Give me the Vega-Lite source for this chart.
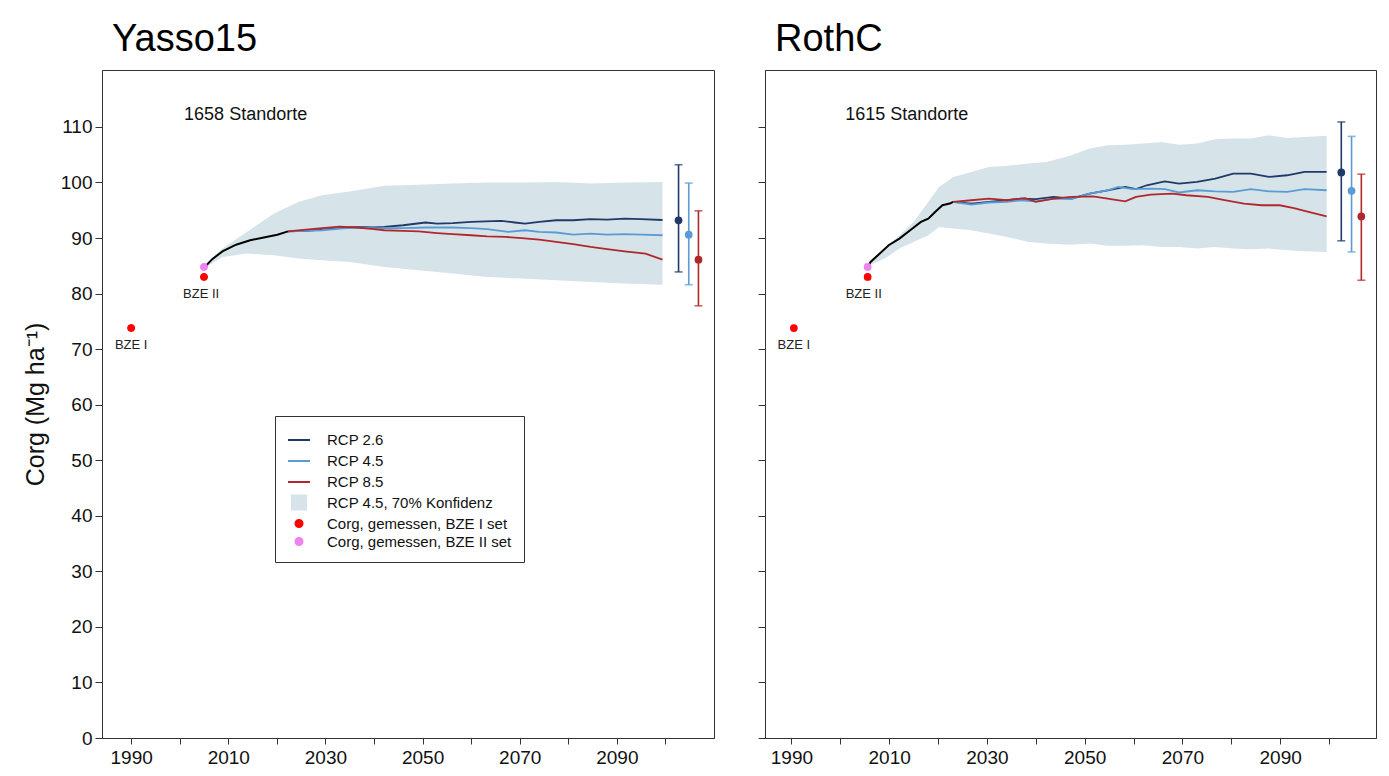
{
  "$schema": "https://vega.github.io/schema/vega-lite/v6.json",
  "padding": {"left": 22, "top": 20, "right": 5, "bottom": 5},
  "background": "white",
  "config": {
    "font": "Liberation Sans",
    "view": {"stroke": "#333", "strokeWidth": 1},
    "axis": {"labelFont": "Liberation Sans", "labelFontSize": 19, "labelColor": "#111", "domainColor": "#333", "tickColor": "#333", "grid": false, "titleFont": "Liberation Sans", "titleFontWeight": "normal", "titleColor": "#111"},
    "title": {"font": "Liberation Sans", "fontWeight": "normal", "color": "#000", "fontSize": 38, "anchor": "start", "frame": "group", "offset": 11, "dx": 10},
    "legend": {"title": null, "orient": "none", "legendX": 173, "legendY": 346, "padding": 12, "strokeColor": "#333", "fillColor": "white", "labelFont": "Liberation Sans", "labelFontSize": 15, "labelColor": "#111", "labelLimit": 400, "rowPadding": 1, "labelOffset": 16, "symbolStrokeWidth": 2}
  },
  "datasets": {
    "y15": [
      {"kind": "band", "year": 2005.3, "lo": 84.7, "hi": 85.4},
      {"kind": "band", "year": 2008.8, "lo": 86.6, "hi": 88.1},
      {"kind": "band", "year": 2013.8, "lo": 87.2, "hi": 91.1},
      {"kind": "band", "year": 2019.4, "lo": 86.9, "hi": 94.4},
      {"kind": "band", "year": 2024.4, "lo": 86.3, "hi": 96.5},
      {"kind": "band", "year": 2029.3, "lo": 86.0, "hi": 97.7},
      {"kind": "band", "year": 2035.0, "lo": 85.7, "hi": 98.4},
      {"kind": "band", "year": 2042.1, "lo": 84.8, "hi": 99.4},
      {"kind": "band", "year": 2049.2, "lo": 84.2, "hi": 99.6},
      {"kind": "band", "year": 2056.2, "lo": 83.6, "hi": 99.8},
      {"kind": "band", "year": 2063.3, "lo": 83.0, "hi": 100.0},
      {"kind": "band", "year": 2070.4, "lo": 82.7, "hi": 100.0},
      {"kind": "band", "year": 2077.5, "lo": 82.4, "hi": 100.1},
      {"kind": "band", "year": 2084.6, "lo": 82.1, "hi": 99.8},
      {"kind": "band", "year": 2091.6, "lo": 81.8, "hi": 100.0},
      {"kind": "band", "year": 2099.4, "lo": 81.6, "hi": 100.1},
      {"kind": "hist", "year": 2005.2, "value": 84.8},
      {"kind": "hist", "year": 2006.7, "value": 86.2},
      {"kind": "hist", "year": 2008.8, "value": 87.6},
      {"kind": "hist", "year": 2011.6, "value": 88.8},
      {"kind": "hist", "year": 2014.5, "value": 89.6},
      {"kind": "hist", "year": 2017.3, "value": 90.1},
      {"kind": "hist", "year": 2020.1, "value": 90.6},
      {"kind": "hist", "year": 2022.3, "value": 91.2},
      {"kind": "line", "series": "RCP 2.6", "year": 2022.3, "value": 91.2},
      {"kind": "line", "series": "RCP 2.6", "year": 2026.0, "value": 91.3},
      {"kind": "line", "series": "RCP 2.6", "year": 2029.3, "value": 91.5},
      {"kind": "line", "series": "RCP 2.6", "year": 2033.0, "value": 91.8},
      {"kind": "line", "series": "RCP 2.6", "year": 2036.4, "value": 92.0},
      {"kind": "line", "series": "RCP 2.6", "year": 2040.0, "value": 91.9},
      {"kind": "line", "series": "RCP 2.6", "year": 2042.1, "value": 92.0},
      {"kind": "line", "series": "RCP 2.6", "year": 2046.0, "value": 92.3},
      {"kind": "line", "series": "RCP 2.6", "year": 2050.6, "value": 92.8},
      {"kind": "line", "series": "RCP 2.6", "year": 2053.0, "value": 92.6},
      {"kind": "line", "series": "RCP 2.6", "year": 2056.2, "value": 92.7},
      {"kind": "line", "series": "RCP 2.6", "year": 2060.0, "value": 92.9},
      {"kind": "line", "series": "RCP 2.6", "year": 2063.0, "value": 93.0},
      {"kind": "line", "series": "RCP 2.6", "year": 2066.2, "value": 93.1},
      {"kind": "line", "series": "RCP 2.6", "year": 2069.0, "value": 92.8},
      {"kind": "line", "series": "RCP 2.6", "year": 2071.1, "value": 92.6},
      {"kind": "line", "series": "RCP 2.6", "year": 2074.0, "value": 92.9},
      {"kind": "line", "series": "RCP 2.6", "year": 2077.5, "value": 93.2},
      {"kind": "line", "series": "RCP 2.6", "year": 2081.0, "value": 93.2},
      {"kind": "line", "series": "RCP 2.6", "year": 2084.6, "value": 93.4},
      {"kind": "line", "series": "RCP 2.6", "year": 2088.0, "value": 93.3},
      {"kind": "line", "series": "RCP 2.6", "year": 2091.6, "value": 93.5},
      {"kind": "line", "series": "RCP 2.6", "year": 2095.0, "value": 93.4},
      {"kind": "line", "series": "RCP 2.6", "year": 2099.4, "value": 93.25},
      {"kind": "line", "series": "RCP 4.5", "year": 2022.3, "value": 91.2},
      {"kind": "line", "series": "RCP 4.5", "year": 2026.0, "value": 91.3},
      {"kind": "line", "series": "RCP 4.5", "year": 2029.3, "value": 91.4},
      {"kind": "line", "series": "RCP 4.5", "year": 2033.0, "value": 91.7},
      {"kind": "line", "series": "RCP 4.5", "year": 2036.4, "value": 91.9},
      {"kind": "line", "series": "RCP 4.5", "year": 2040.0, "value": 91.8},
      {"kind": "line", "series": "RCP 4.5", "year": 2046.0, "value": 91.8},
      {"kind": "line", "series": "RCP 4.5", "year": 2050.6, "value": 91.9},
      {"kind": "line", "series": "RCP 4.5", "year": 2056.2, "value": 91.9},
      {"kind": "line", "series": "RCP 4.5", "year": 2060.0, "value": 91.8},
      {"kind": "line", "series": "RCP 4.5", "year": 2063.3, "value": 91.6},
      {"kind": "line", "series": "RCP 4.5", "year": 2067.6, "value": 91.1},
      {"kind": "line", "series": "RCP 4.5", "year": 2071.1, "value": 91.4},
      {"kind": "line", "series": "RCP 4.5", "year": 2074.0, "value": 91.1},
      {"kind": "line", "series": "RCP 4.5", "year": 2077.5, "value": 91.0},
      {"kind": "line", "series": "RCP 4.5", "year": 2081.0, "value": 90.6},
      {"kind": "line", "series": "RCP 4.5", "year": 2084.6, "value": 90.8},
      {"kind": "line", "series": "RCP 4.5", "year": 2088.0, "value": 90.6},
      {"kind": "line", "series": "RCP 4.5", "year": 2091.6, "value": 90.7},
      {"kind": "line", "series": "RCP 4.5", "year": 2095.0, "value": 90.6},
      {"kind": "line", "series": "RCP 4.5", "year": 2099.4, "value": 90.5},
      {"kind": "line", "series": "RCP 8.5", "year": 2022.3, "value": 91.2},
      {"kind": "line", "series": "RCP 8.5", "year": 2026.0, "value": 91.5},
      {"kind": "line", "series": "RCP 8.5", "year": 2029.3, "value": 91.8},
      {"kind": "line", "series": "RCP 8.5", "year": 2032.9, "value": 92.05},
      {"kind": "line", "series": "RCP 8.5", "year": 2036.4, "value": 91.9},
      {"kind": "line", "series": "RCP 8.5", "year": 2040.0, "value": 91.6},
      {"kind": "line", "series": "RCP 8.5", "year": 2042.1, "value": 91.4},
      {"kind": "line", "series": "RCP 8.5", "year": 2046.0, "value": 91.3},
      {"kind": "line", "series": "RCP 8.5", "year": 2049.2, "value": 91.2},
      {"kind": "line", "series": "RCP 8.5", "year": 2053.0, "value": 90.9},
      {"kind": "line", "series": "RCP 8.5", "year": 2056.2, "value": 90.7},
      {"kind": "line", "series": "RCP 8.5", "year": 2060.0, "value": 90.5},
      {"kind": "line", "series": "RCP 8.5", "year": 2063.3, "value": 90.3},
      {"kind": "line", "series": "RCP 8.5", "year": 2067.0, "value": 90.2},
      {"kind": "line", "series": "RCP 8.5", "year": 2070.4, "value": 90.0},
      {"kind": "line", "series": "RCP 8.5", "year": 2074.0, "value": 89.7},
      {"kind": "line", "series": "RCP 8.5", "year": 2077.5, "value": 89.3},
      {"kind": "line", "series": "RCP 8.5", "year": 2081.0, "value": 88.9},
      {"kind": "line", "series": "RCP 8.5", "year": 2084.6, "value": 88.4},
      {"kind": "line", "series": "RCP 8.5", "year": 2088.0, "value": 88.0},
      {"kind": "line", "series": "RCP 8.5", "year": 2091.6, "value": 87.6},
      {"kind": "line", "series": "RCP 8.5", "year": 2095.9, "value": 87.2},
      {"kind": "line", "series": "RCP 8.5", "year": 2099.4, "value": 86.1},
      {"kind": "err", "series": "RCP 2.6", "year": 2102.7, "value": 93.2, "lo": 83.9, "hi": 103.2},
      {"kind": "err", "series": "RCP 4.5", "year": 2104.8, "value": 90.6, "lo": 81.6, "hi": 99.9},
      {"kind": "err", "series": "RCP 8.5", "year": 2106.8, "value": 86.1, "lo": 77.8, "hi": 94.9},
      {"kind": "pt", "series": "Corg, gemessen, BZE I set", "year": 1990.0, "value": 73.8},
      {"kind": "pt", "series": "Corg, gemessen, BZE I set", "year": 2005.0, "value": 83.0},
      {"kind": "pt", "series": "Corg, gemessen, BZE II set", "year": 2005.0, "value": 84.8},
      {"kind": "label", "text": "BZE I", "year": 1990.0, "value": 70.8},
      {"kind": "label", "text": "BZE II", "year": 2004.4, "value": 79.9},
      {"kind": "note", "text": "1658 Standorte", "year": 2000.9, "value": 112.1}
    ],
    "rc": [
      {"kind": "band", "year": 2006.0, "lo": 85.1, "hi": 85.8},
      {"kind": "band", "year": 2009.1, "lo": 86.3, "hi": 88.1},
      {"kind": "band", "year": 2012.1, "lo": 88.1, "hi": 90.5},
      {"kind": "band", "year": 2015.0, "lo": 89.3, "hi": 92.9},
      {"kind": "band", "year": 2018.0, "lo": 90.5, "hi": 96.5},
      {"kind": "band", "year": 2020.2, "lo": 92.0, "hi": 99.2},
      {"kind": "band", "year": 2023.1, "lo": 91.7, "hi": 101.0},
      {"kind": "band", "year": 2026.8, "lo": 91.4, "hi": 101.9},
      {"kind": "band", "year": 2030.4, "lo": 90.8, "hi": 102.8},
      {"kind": "band", "year": 2034.1, "lo": 90.2, "hi": 103.0},
      {"kind": "band", "year": 2038.5, "lo": 89.3, "hi": 103.4},
      {"kind": "band", "year": 2042.2, "lo": 89.0, "hi": 103.7},
      {"kind": "band", "year": 2047.3, "lo": 88.8, "hi": 104.9},
      {"kind": "band", "year": 2051.0, "lo": 89.0, "hi": 106.1},
      {"kind": "band", "year": 2054.7, "lo": 88.6, "hi": 106.7},
      {"kind": "band", "year": 2058.3, "lo": 88.6, "hi": 106.8},
      {"kind": "band", "year": 2062.0, "lo": 88.7, "hi": 107.0},
      {"kind": "band", "year": 2065.7, "lo": 88.4, "hi": 107.3},
      {"kind": "band", "year": 2069.3, "lo": 88.4, "hi": 106.8},
      {"kind": "band", "year": 2073.0, "lo": 88.1, "hi": 107.0},
      {"kind": "band", "year": 2076.7, "lo": 88.4, "hi": 107.8},
      {"kind": "band", "year": 2080.4, "lo": 88.1, "hi": 107.9},
      {"kind": "band", "year": 2084.0, "lo": 88.0, "hi": 107.9},
      {"kind": "band", "year": 2087.7, "lo": 88.1, "hi": 108.5},
      {"kind": "band", "year": 2091.4, "lo": 87.8, "hi": 108.0},
      {"kind": "band", "year": 2095.0, "lo": 87.6, "hi": 108.2},
      {"kind": "band", "year": 2099.5, "lo": 87.5, "hi": 108.4},
      {"kind": "hist", "year": 2005.7, "value": 84.8},
      {"kind": "hist", "year": 2006.2, "value": 85.7},
      {"kind": "hist", "year": 2007.7, "value": 86.9},
      {"kind": "hist", "year": 2009.9, "value": 88.7},
      {"kind": "hist", "year": 2012.1, "value": 89.9},
      {"kind": "hist", "year": 2014.3, "value": 91.4},
      {"kind": "hist", "year": 2016.5, "value": 92.9},
      {"kind": "hist", "year": 2018.0, "value": 93.5},
      {"kind": "hist", "year": 2019.4, "value": 94.7},
      {"kind": "hist", "year": 2020.9, "value": 95.9},
      {"kind": "hist", "year": 2022.4, "value": 96.2},
      {"kind": "hist", "year": 2023.1, "value": 96.5},
      {"kind": "line", "series": "RCP 2.6", "year": 2023.1, "value": 96.5},
      {"kind": "line", "series": "RCP 2.6", "year": 2026.8, "value": 96.2},
      {"kind": "line", "series": "RCP 2.6", "year": 2030.4, "value": 96.5},
      {"kind": "line", "series": "RCP 2.6", "year": 2034.1, "value": 96.8},
      {"kind": "line", "series": "RCP 2.6", "year": 2037.0, "value": 97.1},
      {"kind": "line", "series": "RCP 2.6", "year": 2040.0, "value": 97.0},
      {"kind": "line", "series": "RCP 2.6", "year": 2043.7, "value": 97.4},
      {"kind": "line", "series": "RCP 2.6", "year": 2047.3, "value": 97.1},
      {"kind": "line", "series": "RCP 2.6", "year": 2051.0, "value": 98.0},
      {"kind": "line", "series": "RCP 2.6", "year": 2054.7, "value": 98.6},
      {"kind": "line", "series": "RCP 2.6", "year": 2058.3, "value": 99.2},
      {"kind": "line", "series": "RCP 2.6", "year": 2060.5, "value": 98.8},
      {"kind": "line", "series": "RCP 2.6", "year": 2062.7, "value": 99.5},
      {"kind": "line", "series": "RCP 2.6", "year": 2066.4, "value": 100.2},
      {"kind": "line", "series": "RCP 2.6", "year": 2069.3, "value": 99.8},
      {"kind": "line", "series": "RCP 2.6", "year": 2073.0, "value": 100.1},
      {"kind": "line", "series": "RCP 2.6", "year": 2076.7, "value": 100.7},
      {"kind": "line", "series": "RCP 2.6", "year": 2080.4, "value": 101.6},
      {"kind": "line", "series": "RCP 2.6", "year": 2084.0, "value": 101.6},
      {"kind": "line", "series": "RCP 2.6", "year": 2087.7, "value": 101.0},
      {"kind": "line", "series": "RCP 2.6", "year": 2091.4, "value": 101.3},
      {"kind": "line", "series": "RCP 2.6", "year": 2095.0, "value": 101.9},
      {"kind": "line", "series": "RCP 2.6", "year": 2099.5, "value": 101.9},
      {"kind": "line", "series": "RCP 4.5", "year": 2023.1, "value": 96.5},
      {"kind": "line", "series": "RCP 4.5", "year": 2026.8, "value": 96.0},
      {"kind": "line", "series": "RCP 4.5", "year": 2030.4, "value": 96.4},
      {"kind": "line", "series": "RCP 4.5", "year": 2034.1, "value": 96.5},
      {"kind": "line", "series": "RCP 4.5", "year": 2037.0, "value": 96.8},
      {"kind": "line", "series": "RCP 4.5", "year": 2040.0, "value": 96.6},
      {"kind": "line", "series": "RCP 4.5", "year": 2043.7, "value": 97.1},
      {"kind": "line", "series": "RCP 4.5", "year": 2047.3, "value": 97.0},
      {"kind": "line", "series": "RCP 4.5", "year": 2051.0, "value": 98.0},
      {"kind": "line", "series": "RCP 4.5", "year": 2054.7, "value": 98.6},
      {"kind": "line", "series": "RCP 4.5", "year": 2056.9, "value": 99.2},
      {"kind": "line", "series": "RCP 4.5", "year": 2059.8, "value": 98.8},
      {"kind": "line", "series": "RCP 4.5", "year": 2063.5, "value": 98.9},
      {"kind": "line", "series": "RCP 4.5", "year": 2066.4, "value": 98.8},
      {"kind": "line", "series": "RCP 4.5", "year": 2069.3, "value": 98.2},
      {"kind": "line", "series": "RCP 4.5", "year": 2073.0, "value": 98.6},
      {"kind": "line", "series": "RCP 4.5", "year": 2076.7, "value": 98.4},
      {"kind": "line", "series": "RCP 4.5", "year": 2080.4, "value": 98.3},
      {"kind": "line", "series": "RCP 4.5", "year": 2084.0, "value": 98.8},
      {"kind": "line", "series": "RCP 4.5", "year": 2087.7, "value": 98.4},
      {"kind": "line", "series": "RCP 4.5", "year": 2091.4, "value": 98.3},
      {"kind": "line", "series": "RCP 4.5", "year": 2095.0, "value": 98.8},
      {"kind": "line", "series": "RCP 4.5", "year": 2099.5, "value": 98.6},
      {"kind": "line", "series": "RCP 8.5", "year": 2023.1, "value": 96.5},
      {"kind": "line", "series": "RCP 8.5", "year": 2026.8, "value": 96.8},
      {"kind": "line", "series": "RCP 8.5", "year": 2030.4, "value": 97.1},
      {"kind": "line", "series": "RCP 8.5", "year": 2034.1, "value": 96.8},
      {"kind": "line", "series": "RCP 8.5", "year": 2037.8, "value": 97.2},
      {"kind": "line", "series": "RCP 8.5", "year": 2040.0, "value": 96.5},
      {"kind": "line", "series": "RCP 8.5", "year": 2043.7, "value": 97.1},
      {"kind": "line", "series": "RCP 8.5", "year": 2047.3, "value": 97.4},
      {"kind": "line", "series": "RCP 8.5", "year": 2051.7, "value": 97.5},
      {"kind": "line", "series": "RCP 8.5", "year": 2054.7, "value": 97.1},
      {"kind": "line", "series": "RCP 8.5", "year": 2058.3, "value": 96.6},
      {"kind": "line", "series": "RCP 8.5", "year": 2060.5, "value": 97.4},
      {"kind": "line", "series": "RCP 8.5", "year": 2063.5, "value": 97.8},
      {"kind": "line", "series": "RCP 8.5", "year": 2067.9, "value": 98.0},
      {"kind": "line", "series": "RCP 8.5", "year": 2070.8, "value": 97.7},
      {"kind": "line", "series": "RCP 8.5", "year": 2075.2, "value": 97.4},
      {"kind": "line", "series": "RCP 8.5", "year": 2078.9, "value": 96.8},
      {"kind": "line", "series": "RCP 8.5", "year": 2082.6, "value": 96.2},
      {"kind": "line", "series": "RCP 8.5", "year": 2086.2, "value": 95.9},
      {"kind": "line", "series": "RCP 8.5", "year": 2089.9, "value": 95.9},
      {"kind": "line", "series": "RCP 8.5", "year": 2092.8, "value": 95.4},
      {"kind": "line", "series": "RCP 8.5", "year": 2095.8, "value": 94.7},
      {"kind": "line", "series": "RCP 8.5", "year": 2099.5, "value": 93.9},
      {"kind": "err", "series": "RCP 2.6", "year": 2102.5, "value": 101.8, "lo": 89.5, "hi": 110.9},
      {"kind": "err", "series": "RCP 4.5", "year": 2104.6, "value": 98.5, "lo": 87.5, "hi": 108.3},
      {"kind": "err", "series": "RCP 8.5", "year": 2106.6, "value": 93.9, "lo": 82.4, "hi": 101.5},
      {"kind": "pt", "series": "Corg, gemessen, BZE I set", "year": 1990.5, "value": 73.8},
      {"kind": "pt", "series": "Corg, gemessen, BZE I set", "year": 2005.6, "value": 83.0},
      {"kind": "pt", "series": "Corg, gemessen, BZE II set", "year": 2005.6, "value": 84.8},
      {"kind": "label", "text": "BZE I", "year": 1990.5, "value": 70.8},
      {"kind": "label", "text": "BZE II", "year": 2004.8, "value": 79.9},
      {"kind": "note", "text": "1615 Standorte", "year": 2001.0, "value": 112.1}
    ]
  },
  "hconcat": [
    {
      "title": {"text": "Yasso15"},
      "width": 612,
      "height": 668,
      "data": {"name": "y15"},
      "encoding": {
        "x": {"field": "year", "type": "quantitative", "scale": {"domain": [1984, 2110], "nice": false, "zero": false},
              "axis": {"title": null, "values": [1990, 2000, 2010, 2020, 2030, 2040, 2050, 2060, 2070, 2080, 2090, 2100], "format": "d", "labelExpr": "datum.value % 20 == 10 ? datum.label : ''", "tickSize": 6, "labelPadding": 4}}
      },
      "layer": [
        {
          "transform": [{"filter": "datum.kind == 'band'"}],
          "mark": {"type": "area", "color": "#d6e4e9", "opacity": 1},
          "encoding": {
            "y": {"field": "lo", "type": "quantitative", "scale": {"domain": [0, 120.25], "nice": false, "zero": true},
                  "axis": {"title": "Corg (Mg ha⁻¹)", "titleFontSize": 25, "titlePadding": 12, "values": [0, 10, 20, 30, 40, 50, 60, 70, 80, 90, 100, 110], "tickSize": 7, "labelPadding": 3}},
            "y2": {"field": "hi"}
          }
        },
        {
          "transform": [{"filter": "datum.kind == 'hist'"}],
          "mark": {"type": "line", "color": "#000", "strokeWidth": 2},
          "encoding": {"y": {"field": "value", "type": "quantitative"}}
        },
        {
          "transform": [{"filter": "datum.kind == 'line'"}],
          "mark": {"type": "line", "strokeWidth": 1.8},
          "encoding": {
            "y": {"field": "value", "type": "quantitative"},
            "color": {
              "field": "series", "type": "nominal",
              "scale": {
                "domain": ["RCP 2.6", "RCP 4.5", "RCP 8.5"],
                "range": ["#1f3a68", "#5b9bd5", "#b0282c"]
              },
              "legend": null
            }
          }
        },
        {
          "transform": [{"filter": "datum.kind == 'err'"}],
          "mark": {"type": "rule", "strokeWidth": 1.6},
          "encoding": {"y": {"field": "lo", "type": "quantitative"}, "y2": {"field": "hi"}, "color": {"field": "series", "type": "nominal", "legend": null}}
        },
        {
          "transform": [{"filter": "datum.kind == 'err'"}],
          "mark": {"type": "tick", "orient": "horizontal", "size": 8, "thickness": 1.6},
          "encoding": {"y": {"field": "lo", "type": "quantitative"}, "color": {"field": "series", "type": "nominal", "legend": null}}
        },
        {
          "transform": [{"filter": "datum.kind == 'err'"}],
          "mark": {"type": "tick", "orient": "horizontal", "size": 8, "thickness": 1.6},
          "encoding": {"y": {"field": "hi", "type": "quantitative"}, "color": {"field": "series", "type": "nominal", "legend": null}}
        },
        {
          "transform": [{"filter": "datum.kind == 'err'"}],
          "mark": {"type": "point", "filled": true, "opacity": 1, "size": 60},
          "encoding": {"y": {"field": "value", "type": "quantitative"}, "color": {"field": "series", "type": "nominal", "legend": null}}
        },
        {
          "transform": [{"filter": "datum.kind == 'pt'"}],
          "mark": {"type": "point", "filled": true, "opacity": 1, "strokeWidth": 1},
          "encoding": {
            "y": {"field": "value", "type": "quantitative"},
            "stroke": {
              "field": "series", "type": "nominal",
              "scale": {
                "domain": ["RCP 2.6", "RCP 4.5", "RCP 8.5", "RCP 4.5, 70% Konfidenz", "Corg, gemessen, BZE I set", "Corg, gemessen, BZE II set"],
                "range": ["#1f3a68", "#5b9bd5", "#b0282c", "#d6e4e9", "#ff0000", "#ee82ee"]
              }
            },
            "fill": {
              "field": "series", "type": "nominal",
              "scale": {
                "domain": ["RCP 2.6", "RCP 4.5", "RCP 8.5", "RCP 4.5, 70% Konfidenz", "Corg, gemessen, BZE I set", "Corg, gemessen, BZE II set"],
                "range": ["transparent", "transparent", "transparent", "#d6e4e9", "#ff0000", "#ee82ee"]
              }
            },
            "shape": {
              "field": "series", "type": "nominal",
              "scale": {
                "domain": ["RCP 2.6", "RCP 4.5", "RCP 8.5", "RCP 4.5, 70% Konfidenz", "Corg, gemessen, BZE I set", "Corg, gemessen, BZE II set"],
                "range": ["stroke", "stroke", "stroke", "square", "circle", "circle"]
              }
            },
            "size": {
              "field": "series", "type": "nominal",
              "scale": {
                "type": "ordinal",
                "domain": ["RCP 2.6", "RCP 4.5", "RCP 8.5", "RCP 4.5, 70% Konfidenz", "Corg, gemessen, BZE I set", "Corg, gemessen, BZE II set"],
                "range": [484, 484, 484, 200, 50, 50]
              }
            }
          }
        },
        {
          "transform": [{"filter": "datum.kind == 'label'"}],
          "mark": {"type": "text", "fontSize": 13, "font": "Liberation Sans", "color": "#222", "baseline": "middle", "align": "center"},
          "encoding": {"y": {"field": "value", "type": "quantitative"}, "text": {"field": "text"}}
        },
        {
          "transform": [{"filter": "datum.kind == 'note'"}],
          "mark": {"type": "text", "fontSize": 18, "font": "Liberation Sans", "color": "#111", "baseline": "middle", "align": "left"},
          "encoding": {"y": {"field": "value", "type": "quantitative"}, "text": {"field": "text"}}
        }
      ]
    },
    {
      "title": {"text": "RothC"},
      "width": 611,
      "height": 668,
      "data": {"name": "rc"},
      "encoding": {
        "x": {"field": "year", "type": "quantitative", "scale": {"domain": [1984.6, 2109.6], "nice": false, "zero": false},
              "axis": {"title": null, "values": [1990, 2000, 2010, 2020, 2030, 2040, 2050, 2060, 2070, 2080, 2090, 2100], "format": "d", "labelExpr": "datum.value % 20 == 10 ? datum.label : ''", "tickSize": 6, "labelPadding": 4}}
      },
      "layer": [
        {
          "transform": [{"filter": "datum.kind == 'band'"}],
          "mark": {"type": "area", "color": "#d6e4e9", "opacity": 1},
          "encoding": {
            "y": {"field": "lo", "type": "quantitative", "scale": {"domain": [0, 120.25], "nice": false, "zero": true},
                  "axis": {"title": null, "labels": false, "values": [0, 10, 20, 30, 40, 50, 60, 70, 80, 90, 100, 110], "tickSize": 7}},
            "y2": {"field": "hi"}
          }
        },
        {
          "transform": [{"filter": "datum.kind == 'hist'"}],
          "mark": {"type": "line", "color": "#000", "strokeWidth": 2},
          "encoding": {"y": {"field": "value", "type": "quantitative"}}
        },
        {
          "transform": [{"filter": "datum.kind == 'line'"}],
          "mark": {"type": "line", "strokeWidth": 1.8},
          "encoding": {
            "y": {"field": "value", "type": "quantitative"},
            "color": {
              "field": "series", "type": "nominal",
              "scale": {
                "domain": ["RCP 2.6", "RCP 4.5", "RCP 8.5", "Corg, gemessen, BZE I set", "Corg, gemessen, BZE II set"],
                "range": ["#1f3a68", "#5b9bd5", "#b0282c", "#ff0000", "#ee82ee"]
              },
              "legend": null
            }
          }
        },
        {
          "transform": [{"filter": "datum.kind == 'err'"}],
          "mark": {"type": "rule", "strokeWidth": 1.6},
          "encoding": {"y": {"field": "lo", "type": "quantitative"}, "y2": {"field": "hi"}, "color": {"field": "series", "type": "nominal", "legend": null}}
        },
        {
          "transform": [{"filter": "datum.kind == 'err'"}],
          "mark": {"type": "tick", "orient": "horizontal", "size": 8, "thickness": 1.6},
          "encoding": {"y": {"field": "lo", "type": "quantitative"}, "color": {"field": "series", "type": "nominal", "legend": null}}
        },
        {
          "transform": [{"filter": "datum.kind == 'err'"}],
          "mark": {"type": "tick", "orient": "horizontal", "size": 8, "thickness": 1.6},
          "encoding": {"y": {"field": "hi", "type": "quantitative"}, "color": {"field": "series", "type": "nominal", "legend": null}}
        },
        {
          "transform": [{"filter": "datum.kind == 'err' || datum.kind == 'pt'"}],
          "mark": {"type": "point", "filled": true, "opacity": 1, "size": 60},
          "encoding": {"y": {"field": "value", "type": "quantitative"}, "color": {"field": "series", "type": "nominal", "legend": null}}
        },
        {
          "transform": [{"filter": "datum.kind == 'label'"}],
          "mark": {"type": "text", "fontSize": 13, "font": "Liberation Sans", "color": "#222", "baseline": "middle", "align": "center"},
          "encoding": {"y": {"field": "value", "type": "quantitative"}, "text": {"field": "text"}}
        },
        {
          "transform": [{"filter": "datum.kind == 'note'"}],
          "mark": {"type": "text", "fontSize": 18, "font": "Liberation Sans", "color": "#111", "baseline": "middle", "align": "left"},
          "encoding": {"y": {"field": "value", "type": "quantitative"}, "text": {"field": "text"}}
        }
      ]
    }
  ],
  "spacing": 42,
  "resolve": {"scale": {"color": "independent", "shape": "independent", "stroke": "independent", "fill": "independent", "size": "independent"}, "legend": {"color": "independent", "shape": "independent", "stroke": "independent", "fill": "independent", "size": "independent"}}
}
